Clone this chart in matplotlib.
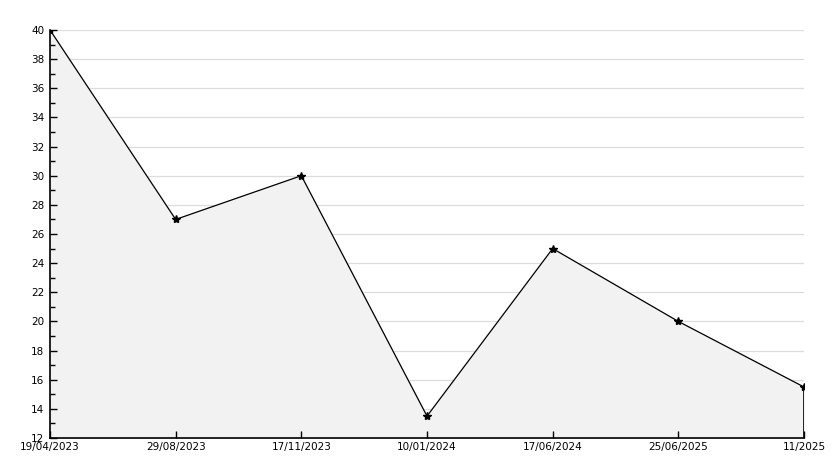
import matplotlib.pyplot as plt
from matplotlib.ticker import MultipleLocator

dates = ["19/04/2023", "29/08/2023", "17/11/2023", "10/01/2024",
         "17/06/2024", "25/06/2025", "11/2025"]
values = [40, 27, 30, 13.5, 25, 20, 15.5]

fig = plt.figure(figsize=(8.34, 4.68), dpi=100)
ax = fig.add_axes([50 / 834, 30 / 468, 754 / 834, 408 / 468])

x = list(range(len(values)))
ax.set_xlim(0, len(values) - 1)
ax.set_ylim(12, 40)
ax.yaxis.set_major_locator(MultipleLocator(2))
ax.yaxis.set_minor_locator(MultipleLocator(1))

# grid lines sit under the fill, ticks stay on top
for yv in ax.get_yticks()[1:]:
    ax.axhline(yv, color="#dddddd", linewidth=0.9, zorder=0.5)

ax.fill_between(x, values, 12, color="#f2f2f2", zorder=1)
ax.plot(x, values, color="black", linewidth=0.9, zorder=3)
ax.plot(x, values, linestyle="none", marker="*", markersize=6,
        color="black", zorder=4)
ax.vlines(x[-1], 12, values[-1], color="black", linewidth=1.2, zorder=3)

ax.set_xticks(x)
ax.set_xticklabels(dates)
ax.set_axisbelow(False)
ax.tick_params(axis="both", direction="in", labelsize=7.5, length=5, width=1)
ax.tick_params(axis="y", which="minor", direction="in", length=3.5, width=1)
ax.tick_params(axis="x", pad=3)
ax.tick_params(axis="y", pad=4)

for s in ["top", "right"]:
    ax.spines[s].set_visible(False)
for s in ["left", "bottom"]:
    ax.spines[s].set_linewidth(1.2)
    ax.spines[s].set_zorder(5)

fig.savefig("out.png", dpi=100)
